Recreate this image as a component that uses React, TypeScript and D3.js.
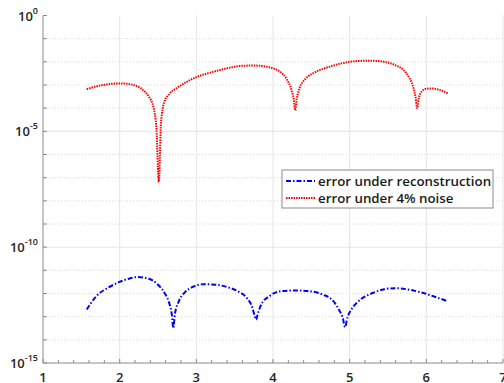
import React from "react";
import * as d3 from "d3";

// x positions and log10(error)
const noiseX = [1.57, 1.75, 1.9, 2.0, 2.1, 2.2, 2.3, 2.38, 2.44, 2.48, 2.51, 2.54, 2.58, 2.65, 2.75, 2.9, 3.0, 3.2, 3.4, 3.6, 3.75, 3.9, 4.0, 4.1, 4.18, 4.24, 4.27, 4.29, 4.31, 4.35, 4.42, 4.55, 4.75, 5.0, 5.25, 5.45, 5.6, 5.7, 5.78, 5.83, 5.86, 5.88, 5.9, 5.94, 6.0, 6.08, 6.18, 6.28];
const noiseLog = [-3.18, -3.02, -2.95, -2.93, -2.95, -3.02, -3.2, -3.5, -3.95, -4.9, -7.19, -4.6, -3.75, -3.38, -3.12, -2.82, -2.66, -2.45, -2.28, -2.17, -2.16, -2.2, -2.28, -2.45, -2.75, -3.2, -3.6, -4.09, -3.6, -3.1, -2.75, -2.45, -2.2, -2.0, -1.95, -2.0, -2.15, -2.35, -2.7, -3.1, -3.55, -4.0, -3.6, -3.28, -3.16, -3.15, -3.22, -3.36];

const reconX = [1.57, 1.7, 1.85, 2.0, 2.12, 2.24, 2.38, 2.5, 2.58, 2.64, 2.68, 2.7, 2.72, 2.77, 2.85, 2.95, 3.09, 3.25, 3.4, 3.55, 3.66, 3.73, 3.76, 3.78, 3.8, 3.85, 3.95, 4.1, 4.3, 4.5, 4.65, 4.78, 4.86, 4.91, 4.94, 4.97, 5.02, 5.12, 5.3, 5.45, 5.59, 5.75, 5.95, 6.12, 6.28];
const reconLog = [-12.69, -12.1, -11.75, -11.5, -11.36, -11.29, -11.36, -11.62, -11.95, -12.35, -12.9, -13.5, -12.9, -12.35, -11.95, -11.72, -11.6, -11.62, -11.72, -11.92, -12.2, -12.6, -12.95, -13.13, -12.9, -12.45, -12.12, -11.9, -11.87, -11.91, -12.05, -12.3, -12.7, -13.05, -13.45, -13.05, -12.7, -12.32, -11.98, -11.82, -11.77, -11.82, -11.97, -12.15, -12.34];

const xTicks = [1, 2, 3, 4, 5, 6, 7];
const yExponents = [-15, -10, -5, 0];
const legendLabels = ["error under reconstruction", "error under 4% noise"];

const W = 504;
const H = 383;
const left = 43;
const right = 503;
const top = 15.5;
const bottom = 363;

export default function App() {
  const x = d3.scaleLinear().domain([1, 7]).range([left, right]);
  const y = d3.scaleLog().domain([1e-15, 1]).range([bottom, top]);

  const line = d3
    .line<[number, number]>()
    .x((d) => x(d[0]))
    .y((d) => y(Math.pow(10, d[1])))
    .curve(d3.curveMonotoneX);

  const noisePts = noiseX.map((v, i) => [v, noiseLog[i]] as [number, number]);
  const reconPts = reconX.map((v, i) => [v, reconLog[i]] as [number, number]);

  const decades = d3.range(-15, 1);
  const minorX = d3.range(1, 7.01, 0.2);
  const font = "'Open Sans', sans-serif";

  return (
    <svg width={W} height={H} style={{ position: "absolute", left: 0, top: 0, background: "#fff" }}>
      {/* minor dotted grid */}
      {decades
        .filter((e) => e % 5 !== 0)
        .map((e) => (
          <line key={"mg" + e} x1={left} x2={right} y1={y(Math.pow(10, e))} y2={y(Math.pow(10, e))}
            stroke="#d8d8d8" strokeWidth={1} strokeDasharray="1,2" />
        ))}
      {/* major grid */}
      {yExponents
        .filter((e) => e > -15 && e < 0)
        .map((e) => (
          <line key={"yg" + e} x1={left} x2={right} y1={y(Math.pow(10, e))} y2={y(Math.pow(10, e))}
            stroke="#e4e4e4" strokeWidth={1} />
        ))}
      {xTicks
        .filter((t) => t > 1)
        .map((t) => (
          <line key={"xg" + t} x1={x(t)} x2={x(t)} y1={top} y2={bottom} stroke="#e4e4e4" strokeWidth={1} />
        ))}

      {/* axes */}
      <line x1={left} x2={left} y1={top} y2={bottom} stroke="#8a8a8a" strokeWidth={1} />
      <line x1={left} x2={right} y1={bottom} y2={bottom} stroke="#8a8a8a" strokeWidth={1} />
      {decades.map((e) => (
        <line key={"yt" + e} x1={left} x2={left + 4} y1={y(Math.pow(10, e))} y2={y(Math.pow(10, e))}
          stroke="#8a8a8a" strokeWidth={1} />
      ))}
      {minorX.map((t, i) => (
        <line key={"xt" + i} x1={x(t)} x2={x(t)} y1={bottom} y2={bottom - (i % 5 === 0 ? 4 : 3)}
          stroke="#8a8a8a" strokeWidth={1} />
      ))}

      {/* tick labels */}
      {xTicks.map((t) => (
        <text key={"xl" + t} x={x(t)} y={bottom + 19} textAnchor="middle" fontFamily={font}
          fontSize={13} fontWeight={600} fill="#262626">{t}</text>
      ))}
      {yExponents.map((e) => (
        <text key={"yl" + e} x={left - 5} y={y(Math.pow(10, e)) + 5} textAnchor="end" fontFamily={font}
          fontSize={13} fontWeight={600} fill="#262626">
          10<tspan dy={-7} fontSize={9}>{e}</tspan>
        </text>
      ))}

      {/* series */}
      <path d={line(reconPts) ?? ""} fill="none" stroke="#0000ff" strokeWidth={2} strokeDasharray="5,2,1.5,2" />
      <path d={line(noisePts) ?? ""} fill="none" stroke="#ff0000" strokeWidth={2} strokeDasharray="1.5,1" />

      {/* legend */}
      <g transform="translate(282,170)">
        <rect x={0} y={0} width={211} height={38} fill="#fff" stroke="#8a8a8a" strokeWidth={1} />
        <line x1={4} x2={33} y1={11} y2={11} stroke="#0000ff" strokeWidth={2} strokeDasharray="5,2,1.5,2" />
        <line x1={4} x2={33} y1={28} y2={28} stroke="#ff0000" strokeWidth={2} strokeDasharray="1.5,1" />
        {legendLabels.map((l, i) => (
          <text key={l} x={36} y={15.5 + i * 17} fontFamily={font} fontSize={13.3} fontWeight={600} fill="#1a1a1a">{l}</text>
        ))}
      </g>
    </svg>
  );
}
